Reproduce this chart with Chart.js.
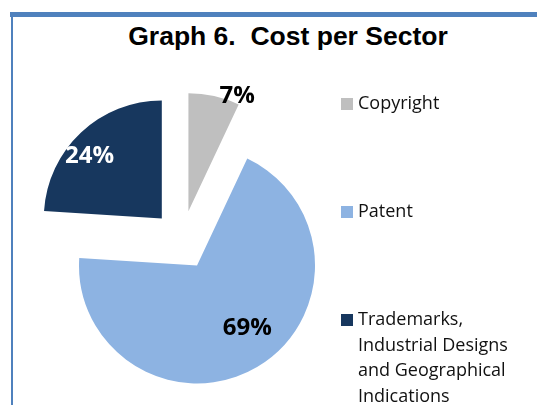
<!DOCTYPE html>
<html>
<head>
<meta charset="utf-8">
<script src="https://cdn.jsdelivr.net/npm/chart.js@4.4.1/dist/chart.umd.min.js"></script>
<style>
    html, body { margin: 0; padding: 0; background: #fff; }
    #wrap { position: relative; width: 537px; height: 405px; overflow: hidden; }
    .frame-top { position: absolute; left: 10px; top: 12px; width: 527px; height: 5px; background: #4f81bd; }
    .frame-left { position: absolute; left: 11px; top: 12px; width: 2px; height: 393px; background: #4f81bd; }
    #title {
        position: absolute; left: 0; top: 21px; width: 576px; text-align: center;
        font: bold 26.5px "Liberation Sans", Arial, sans-serif; line-height: 30px;
        white-space: pre; color: #000;
    }
    canvas { position: absolute; left: 0; top: 0; }
    .legend-item { position: absolute; left: 341px; width: 190px; }
    .legend-box { position: absolute; left: 0; top: 8px; width: 12px; height: 12px; }
    .legend-text {
        position: absolute; left: 17px; top: 0; max-width: 170px;
        font: 18px "Open Sans", sans-serif; line-height: 25.7px; color: #111;
    }
</style>
</head>
<body>
<div id="wrap">
    <div class="frame-top"></div>
    <div class="frame-left"></div>
    <div id="title">Graph 6.  Cost per Sector</div>
    <canvas id="sectorChart" width="537" height="405"></canvas>
    <div id="legend"></div>
</div>
<script>
const categories = ['Copyright', 'Patent', 'Trademarks, Industrial Designs and Geographical Indications'];
const shares = [7, 69, 24];
const percentLabels = ['7%', '69%', '24%'];
const sliceColors = ['#bfbfbf', '#8db3e2', '#17375e'];

// how far each slice is pulled out of the pie, in px
const EXPLODE = 29.5;
const RADIUS = 118;

// where each percent sits inside its slice: fraction along the sweep, fraction of radius
const labelPlacement = [
    { along: 0.9, dist: 1.07, color: '#000' },
    { along: 0.464, dist: 0.67, color: '#000' },
    { along: 0.44, dist: 0.82, color: '#fff' }
];

// Chart.js' own offset also grows the radius of wide slices, so just shift each arc instead
const explode = {
    id: 'explode',
    beforeDatasetDraw(chart, args) {
        args.meta.data.forEach((arc) => {
            if (arc._exploded) return;
            const draw = arc.draw.bind(arc);
            arc.draw = function (ctx, area) {
                const mid = (this.startAngle + this.endAngle) / 2;
                ctx.save();
                ctx.translate(Math.cos(mid) * EXPLODE, Math.sin(mid) * EXPLODE);
                draw(ctx, area);
                ctx.restore();
            };
            arc._exploded = true;
        });
    }
};

const pctLabels = {
    id: 'pctLabels',
    afterDatasetsDraw(chart) {
        const { ctx } = chart;
        const arcs = chart.getDatasetMeta(0).data;
        const size = 24;
        ctx.save();
        ctx.font = `bold ${size}px "Open Sans", sans-serif`;
        ctx.textAlign = 'center';
        ctx.textBaseline = 'alphabetic';
        arcs.forEach((arc, i) => {
            const { x, y, startAngle, endAngle, outerRadius } = arc.getProps(['x', 'y', 'startAngle', 'endAngle', 'outerRadius'], true);
            const mid = (startAngle + endAngle) / 2;
            const cx = x + Math.cos(mid) * EXPLODE;
            const cy = y + Math.sin(mid) * EXPLODE;
            const p = labelPlacement[i];
            const a = startAngle + (endAngle - startAngle) * p.along;
            const r = outerRadius * p.dist;
            ctx.fillStyle = p.color;
            ctx.fillText(percentLabels[i], cx + Math.cos(a) * r, cy + Math.sin(a) * r + size * 0.36);
        });
        ctx.restore();
    }
};

new Chart(document.getElementById('sectorChart'), {
    type: 'pie',
    data: {
        labels: categories,
        datasets: [{
            data: shares,
            backgroundColor: sliceColors,
            borderWidth: 0
        }]
    },
    options: {
        responsive: false,
        animation: false,
        events: [],
        radius: RADIUS,
        layout: { padding: { left: 20, right: 193, top: 100, bottom: 25 } },
        plugins: {
            legend: { display: false },
            title: { display: false },
            tooltip: { enabled: false }
        }
    },
    plugins: [explode, pctLabels]
});

// legend, spread out like the original
const legend = document.getElementById('legend');
categories.forEach((name, i) => {
    const item = document.createElement('div');
    item.className = 'legend-item';
    item.style.top = `${90 + i * 108}px`;
    item.innerHTML = `<div class="legend-box" style="background:${sliceColors[i]}"></div><div class="legend-text">${name}</div>`;
    legend.appendChild(item);
});
</script>
</body>
</html>
